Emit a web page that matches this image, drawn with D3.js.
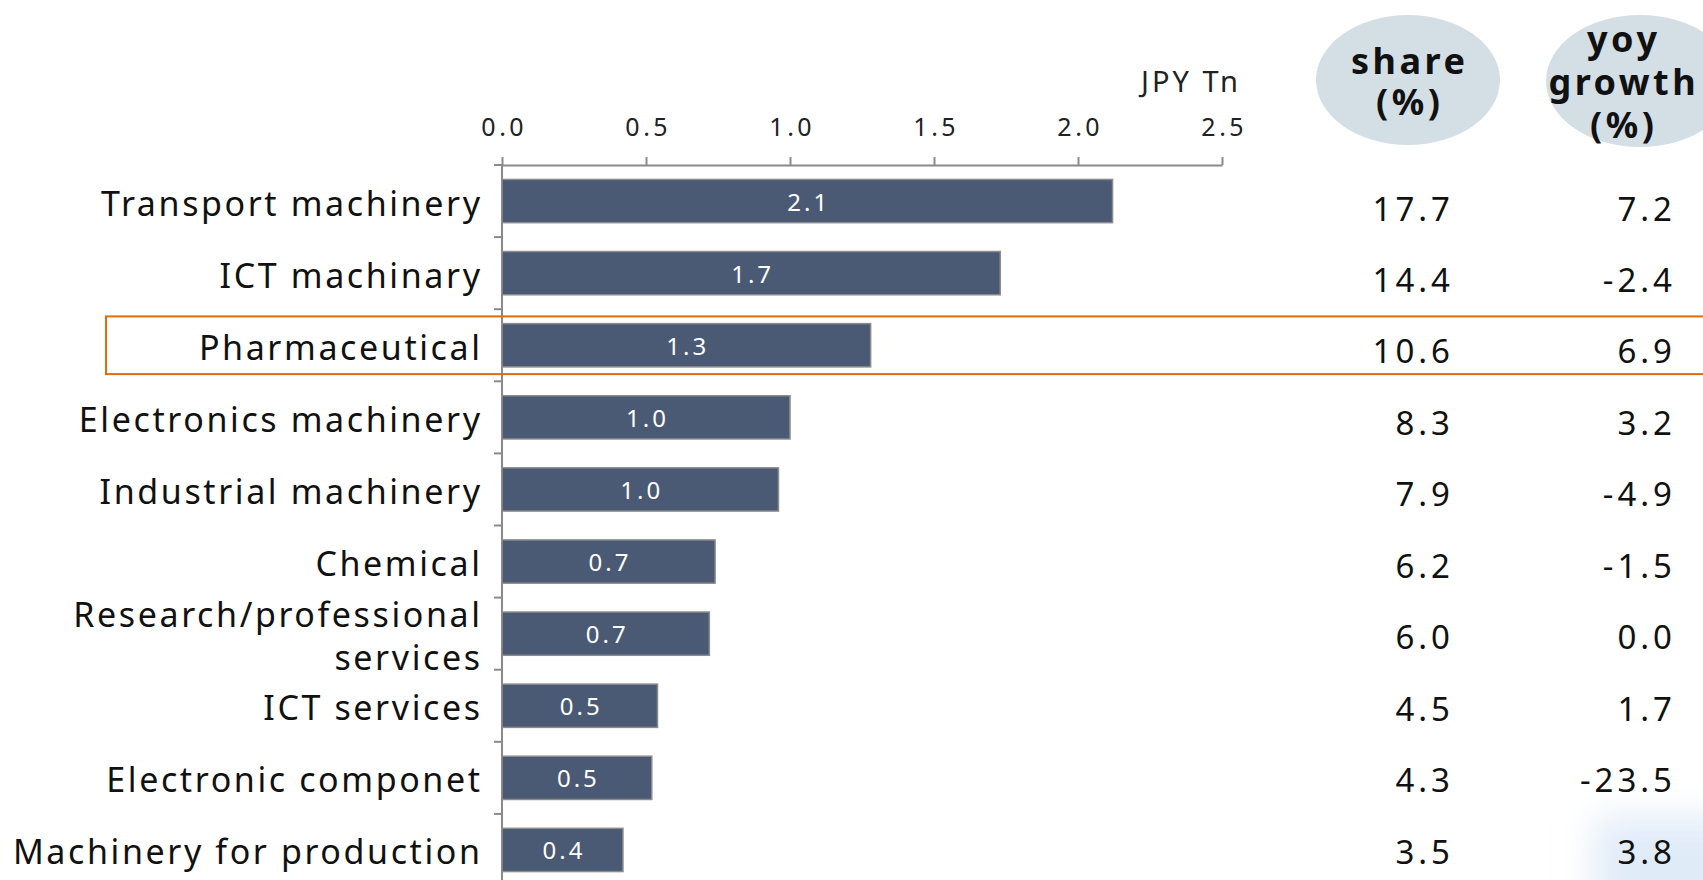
<!DOCTYPE html>
<html>
<head>
<meta charset="utf-8">
<script src="https://cdn.jsdelivr.net/npm/d3@7/dist/d3.min.js"></script>
<style>
  html, body { margin: 0; padding: 0; background: #ffffff; }
  svg { display: block; }
  text { font-family: "Noto Sans", "DejaVu Sans", sans-serif; }
</style>
</head>
<body>
<script>
// Exports by category, JPY trillion
const categories = [
  "Transport machinery",
  "ICT machinary",
  "Pharmaceutical",
  "Electronics machinery",
  "Industrial machinery",
  "Chemical",
  "Research/professional\nservices",
  "ICT services",
  "Electronic componet",
  "Machinery for production"
];
const values = [2.12, 1.73, 1.28, 1.00, 0.96, 0.74, 0.72, 0.54, 0.52, 0.42];
const shares = [17.7, 14.4, 10.6, 8.3, 7.9, 6.2, 6.0, 4.5, 4.3, 3.5];
const growth = [7.2, -2.4, 6.9, 3.2, -4.9, -1.5, 0.0, 1.7, -23.5, 3.8];
const xTicks = [0, 0.5, 1.0, 1.5, 2.0, 2.5];
const unitLabel = "JPY Tn";
const shareHeader = ["share", "(%)"];
const growthHeader = ["yoy", "growth", "(%)"];
const highlighted = "Pharmaceutical";

const W = 1703, H = 880;
const plot = { left: 502, right: 1222, top: 165, bottom: 886 };
const colShareRight = 1450, colGrowthRight = 1672;

const svg = d3.select("body").append("svg")
  .attr("width", W).attr("height", H);

const defs = svg.append("defs");
defs.append("filter").attr("id", "soft")
  .attr("x", "-50%").attr("y", "-50%").attr("width", "200%").attr("height", "200%")
  .append("feGaussianBlur").attr("stdDeviation", 18);

// faint background glow in the lower right corner
svg.append("rect")
  .attr("x", 1595).attr("y", 818).attr("width", 170).attr("height", 120)
  .attr("fill", "#e0ebf8").attr("filter", "url(#soft)");

const x = d3.scaleLinear().domain([0, 2.5]).range([plot.left, plot.right]);
const y = d3.scaleBand().domain(categories)
  .range([plot.top, plot.bottom]).paddingInner(0.4).paddingOuter(0.2);
// rows of the share / growth table
const yTable = d3.scalePoint().domain(categories).range([208, 851]);

const fmt = d3.formatLocale({
  decimal: ".", thousands: ",", grouping: [3], currency: ["", ""], minus: "-"
}).format(".1f");

// top value axis
const xAxis = d3.axisTop(x).tickValues(xTicks).tickFormat(fmt)
  .tickSize(8).tickSizeOuter(0).tickPadding(21);
const gx = svg.append("g").attr("transform", `translate(0,${plot.top})`).call(xAxis);
gx.select(".domain").attr("stroke", "#8a8a8a").attr("stroke-width", 2);
gx.selectAll(".tick line").attr("stroke", "#8a8a8a").attr("stroke-width", 2);
gx.selectAll(".tick text")
  .attr("fill", "#222").style("font-size", "25px").style("letter-spacing", "3.5px")
  .attr("dx", "1.75px");

svg.append("text")
  .attr("x", plot.right + 19).attr("y", 80)
  .attr("text-anchor", "end").attr("dominant-baseline", "central")
  .style("font-size", "29px").style("letter-spacing", "3px")
  .attr("fill", "#222").text(unitLabel);

// category axis: line with ticks at band boundaries
const step = y.step();
const boundaries = d3.range(categories.length + 1).map(i => plot.top + i * step);
svg.append("line")
  .attr("x1", plot.left).attr("x2", plot.left)
  .attr("y1", plot.top).attr("y2", H)
  .attr("stroke", "#8a8a8a").attr("stroke-width", 2);
svg.append("g").selectAll("line").data(boundaries).join("line")
  .attr("x1", plot.left - 8).attr("x2", plot.left)
  .attr("y1", d => d).attr("y2", d => d)
  .attr("stroke", "#8a8a8a").attr("stroke-width", 2);

// highlight frame around the selected row
const hiCenter = y(highlighted) + y.bandwidth() / 2;
const hiHalf = step * 0.4;
svg.append("rect")
  .attr("x", 106).attr("y", hiCenter - hiHalf)
  .attr("width", W).attr("height", hiHalf * 2)
  .attr("fill", "none").attr("stroke", "#e36c09").attr("stroke-width", 2);

// bars
const rows = categories.map((c, i) => ({ c, v: values[i], s: shares[i], g: growth[i] }));
svg.append("g").selectAll("rect").data(rows).join("rect")
  .attr("x", x(0)).attr("y", d => y(d.c))
  .attr("width", d => x(d.v) - x(0)).attr("height", y.bandwidth())
  .attr("fill", "#4a5a74").attr("stroke", "#8c8c8c").attr("stroke-width", 1.5);

// value labels inside bars
svg.append("g").selectAll("text").data(rows).join("text")
  .attr("x", d => (x(0) + x(d.v)) / 2 + 1.5)
  .attr("y", d => y(d.c) + y.bandwidth() / 2)
  .attr("text-anchor", "middle").attr("dominant-baseline", "central")
  .style("font-size", "24px").style("letter-spacing", "3px")
  .attr("fill", "#ffffff").text(d => fmt(d.v));

// category labels
const rowCenter = c => y(c) + y.bandwidth() / 2 + 1.5;
const lab = svg.append("g").selectAll("text").data(rows).join("text")
  .attr("x", 480)
  .attr("y", d => rowCenter(d.c))
  .attr("text-anchor", "end").attr("dominant-baseline", "central")
  .style("font-size", "34px").style("letter-spacing", "2.6px")
  .attr("fill", "#111");
lab.each(function (d) {
  const lines = d.c.split("\n");
  const lh = 43;
  const t = d3.select(this);
  lines.forEach((ln, k) => {
    t.append("tspan")
      .attr("x", 480 + 2.6)
      .attr("y", rowCenter(d.c) + (k - (lines.length - 1) / 2) * lh)
      .text(ln);
  });
});

// share and growth columns
svg.append("g").selectAll("text").data(rows).join("text")
  .attr("x", colShareRight + 4).attr("y", d => yTable(d.c))
  .attr("text-anchor", "end").attr("dominant-baseline", "central")
  .style("font-size", "33px").style("letter-spacing", "4px")
  .attr("fill", "#111").text(d => fmt(d.s));
svg.append("g").selectAll("text").data(rows).join("text")
  .attr("x", colGrowthRight + 4).attr("y", d => yTable(d.c))
  .attr("text-anchor", "end").attr("dominant-baseline", "central")
  .style("font-size", "33px").style("letter-spacing", "4px")
  .attr("fill", "#111").text(d => fmt(d.g));

// column headers on ellipses
function header(cx, cy, rx, ry, textX, lines, firstBaseline, lineH) {
  const g = svg.append("g");
  const id = "clip" + Math.round(cx);
  defs.append("clipPath").attr("id", id)
    .append("rect").attr("x", cx - rx - 40).attr("y", cy - ry).attr("width", 2 * rx + 80).attr("height", 2 * ry);
  g.append("ellipse").attr("cx", cx).attr("cy", cy).attr("rx", rx).attr("ry", ry)
    .attr("fill", "#d3dee5");
  const t = g.append("g").attr("clip-path", `url(#${id})`);
  lines.forEach((ln, k) => {
    t.append("text")
      .attr("x", textX + 1.75).attr("y", firstBaseline + k * lineH)
      .attr("text-anchor", "middle")
      .style("font-size", "36px").style("font-weight", "bold").style("letter-spacing", "3.5px")
      .attr("fill", "#111").text(ln);
  });
}
header(1408, 80, 92, 65, 1408, shareHeader, 74, 41);
header(1640, 81, 94, 66, 1622, growthHeader, 52, 43);
</script>
</body>
</html>
